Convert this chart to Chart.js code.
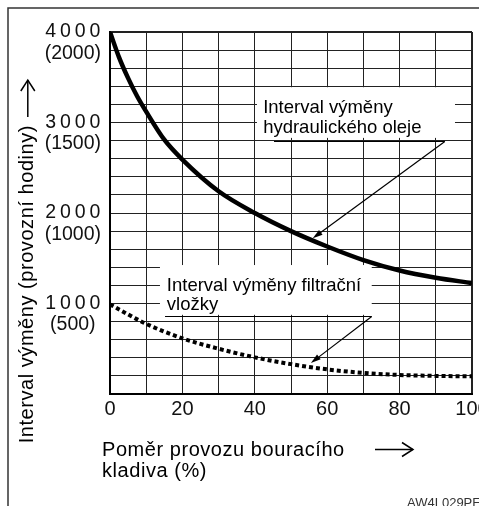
<!DOCTYPE html>
<html>
<head>
<meta charset="utf-8">
<script src="https://cdn.jsdelivr.net/npm/chart.js@4.4.1/dist/chart.umd.min.js"></script>
<style>
  html, body { margin: 0; padding: 0; background: #fff; }
  canvas { display: block; }
</style>
</head>
<body>
<canvas id="chart" width="479" height="506"></canvas>
<script>
// Hammer operating ratio (%) and replacement intervals (operating hours)
const oilRatio = [0, 2.5, 5, 7.5, 10, 15, 20, 30, 40, 50, 60, 70, 80, 90, 100];
const oilHours = [4000, 3720, 3490, 3290, 3120, 2810, 2590, 2240, 2000, 1800, 1630, 1480, 1365, 1285, 1225];

const filterRatio = [0, 10, 20, 30, 40, 50, 60, 70, 80, 90, 100];
const filterHours = [990, 775, 615, 500, 405, 330, 272, 233, 210, 200, 195];

// Axis tick labels
const xTickLabels = ['0', '20', '40', '60', '80', '100'];
const yTickValues = [1000, 2000, 3000, 4000];
const yTickLabels = ['1000', '2000', '3000', '4000'];
const ySubLabels = ['(500)', '(1000)', '(1500)', '(2000)'];

const FONT = "'Liberation Sans', Arial, Helvetica, sans-serif";

function valueAt(xs, ys, xv) {
  for (let i = 1; i < xs.length; i++) {
    if (xv <= xs[i]) {
      const t = (xv - xs[i - 1]) / (xs[i] - xs[i - 1]);
      return ys[i - 1] + t * (ys[i] - ys[i - 1]);
    }
  }
  return ys[ys.length - 1];
}

// Callout panels: box [x1, yTop, x2, yBottom] in data units
const notes = [
  {
    lines: ['Interval výměny', 'hydraulického oleje'],
    box: [40.6, 3390, 95.3, 2830],
    textX: 42.3,
    underline: [45.3, 92.5, 2800],
    target: { xs: oilRatio, ys: oilHours, at: 56, lift: 2 }
  },
  {
    lines: ['Interval výměny filtrační', 'vložky'],
    box: [13.8, 1425, 72.3, 875],
    textX: 15.7,
    underline: [15.2, 72.3, 862],
    target: { xs: filterRatio, ys: filterHours, at: 55.5, lift: 4 }
  }
];

function arrow(ctx, x1, y1, x2, y2, len, half, filled) {
  const a = Math.atan2(y2 - y1, x2 - x1);
  ctx.beginPath();
  ctx.moveTo(x1, y1);
  ctx.lineTo(x2 - Math.cos(a) * (filled ? len * 0.6 : 0), y2 - Math.sin(a) * (filled ? len * 0.6 : 0));
  ctx.stroke();
  const bx = x2 - Math.cos(a) * len, by = y2 - Math.sin(a) * len;
  const px = -Math.sin(a) * half, py = Math.cos(a) * half;
  ctx.beginPath();
  ctx.moveTo(bx + px, by + py);
  ctx.lineTo(x2, y2);
  ctx.lineTo(bx - px, by - py);
  if (filled) { ctx.closePath(); ctx.fill(); } else { ctx.stroke(); }
}

const annotate = {
  id: 'annotate',
  beforeDatasetsDraw(chart) {
    const { ctx, scales: { x, y } } = chart;
    ctx.save();
    ctx.fillStyle = '#fff';
    for (const n of notes) {
      const l = x.getPixelForValue(n.box[0]), r = x.getPixelForValue(n.box[2]);
      const t = y.getPixelForValue(n.box[1]), b = y.getPixelForValue(n.box[3]);
      ctx.fillRect(l, t, r - l, b - t);
    }
    ctx.restore();
  },
  afterDatasetsDraw(chart) {
    const { ctx, scales: { x, y } } = chart;
    ctx.save();
    for (const n of notes) {
      const top = y.getPixelForValue(n.box[1]);
      ctx.fillStyle = '#000';
      ctx.font = '18.5px ' + FONT;
      ctx.textAlign = 'left';
      ctx.textBaseline = 'alphabetic';
      n.lines.forEach((s, i) => ctx.fillText(s, x.getPixelForValue(n.textX), top + 26 + i * 19.3));
      const [u1, u2, uy] = n.underline;
      const py = Math.round(y.getPixelForValue(uy)) + 0.5;
      ctx.strokeStyle = '#000';
      ctx.lineWidth = 1.2;
      ctx.beginPath();
      ctx.moveTo(x.getPixelForValue(u1), py);
      ctx.lineTo(x.getPixelForValue(u2), py);
      ctx.stroke();
      const tg = n.target;
      const tx = x.getPixelForValue(tg.at);
      const ty = y.getPixelForValue(valueAt(tg.xs, tg.ys, tg.at)) - tg.lift;
      arrow(ctx, x.getPixelForValue(u2), py, tx, ty, 10, 3, true);
    }
    ctx.restore();
  },
  afterDraw(chart) {
    const { ctx } = chart;
    ctx.save();
    // frame
    ctx.strokeStyle = '#333';
    ctx.lineWidth = 1.5;
    ctx.beginPath();
    ctx.moveTo(479, 8);
    ctx.lineTo(8, 8);
    ctx.lineTo(8, 506);
    ctx.stroke();

    ctx.fillStyle = '#000';
    ctx.strokeStyle = '#000';
    ctx.font = '20px ' + FONT;
    ctx.letterSpacing = '0.55px';
    ctx.textAlign = 'left';
    ctx.textBaseline = 'alphabetic';

    // x-axis title
    ctx.fillText('Poměr provozu bouracího', 102, 455.5);
    ctx.fillText('kladiva (%)', 102, 476.5);
    ctx.lineWidth = 1.5;
    arrow(ctx, 375, 449.5, 413, 449.5, 11, 7, false);

    // y-axis title
    const yTitle = 'Interval výměny (provozní hodiny)';
    ctx.save();
    ctx.translate(33.3, 443.3);
    ctx.rotate(-Math.PI / 2);
    ctx.fillText(yTitle, 0, 0);
    const w = ctx.measureText(yTitle).width;
    ctx.restore();
    const tail = 443.3 - w - 8;
    arrow(ctx, 27.8, tail, 27.8, tail - 37, 11, 7, false);

    // drawing code
    ctx.letterSpacing = '0px';
    ctx.font = '13px ' + FONT;
    ctx.fillStyle = '#333';
    ctx.fillText('AW4L029PE', 407, 507);
    ctx.restore();
  }
};

new Chart(document.getElementById('chart'), {
  type: 'line',
  data: {
    datasets: [
      {
        data: oilRatio.map((v, i) => ({ x: v, y: oilHours[i] })),
        borderColor: '#000',
        borderWidth: 4.5,
        pointRadius: 0,
        cubicInterpolationMode: 'monotone',
        fill: false
      },
      {
        data: filterRatio.map((v, i) => ({ x: v, y: filterHours[i] })),
        borderColor: '#000',
        borderWidth: 4,
        borderDash: [4, 3],
        borderCapStyle: 'butt',
        pointRadius: 0,
        cubicInterpolationMode: 'monotone',
        fill: false
      }
    ]
  },
  options: {
    responsive: false,
    animation: false,
    devicePixelRatio: 1,
    layout: { padding: { left: 20, right: 7, top: 32, bottom: 82 } },
    plugins: { legend: { display: false }, tooltip: { enabled: false } },
    scales: {
      x: {
        type: 'linear',
        min: 0,
        max: 100,
        ticks: {
          stepSize: 10,
          autoSkip: false,
          maxTicksLimit: 50,
          maxRotation: 0,
          padding: 3,
          color: '#111',
          font: { family: FONT, size: 20 },
          callback: (v) => (v % 20 === 0 ? xTickLabels[v / 20] : '')
        },
        grid: {
          color: '#222',
          lineWidth: (c) => (c.tick && c.tick.value === 100 ? 2 : 1),
          drawTicks: false
        },
        border: { color: '#000', width: 2 },
        afterFit: (s) => { s.height = 30; s.paddingLeft = 0; s.paddingRight = 0; }
      },
      y: {
        type: 'linear',
        min: 0,
        max: 4000,
        ticks: {
          stepSize: 200,
          autoSkip: false,
          maxTicksLimit: 50,
          crossAlign: 'center',
          labelOffset: 10.75,
          padding: 9,
          color: '#111',
          font: { family: FONT, size: 19.5, lineHeight: 1.1 },
          callback: (v) => {
            const i = yTickValues.indexOf(v);
            return i < 0 ? '' : [yTickLabels[i].split('').join('\u2009'), ySubLabels[i]];
          }
        },
        grid: {
          color: '#222',
          lineWidth: (c) => (c.tick && c.tick.value === 4000 ? 2 : 1),
          drawTicks: false
        },
        border: { color: '#000', width: 2 },
        afterFit: (s) => { s.width = 90; s.paddingTop = 0; s.paddingBottom = 0; }
      }
    }
  },
  plugins: [annotate]
});
</script>
</body>
</html>
